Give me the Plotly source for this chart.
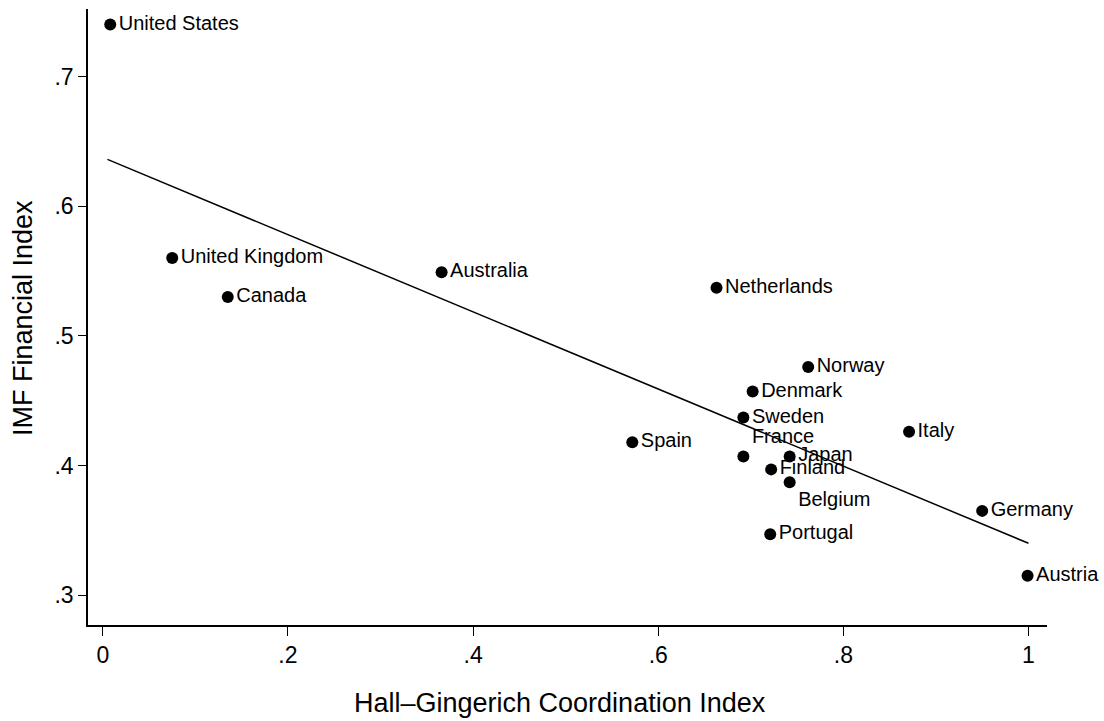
import plotly.graph_objects as go

countries = ["United States", "United Kingdom", "Canada", "Australia", "Netherlands",
             "Norway", "Denmark", "Sweden", "Spain", "France", "Japan", "Finland",
             "Belgium", "Portugal", "Italy", "Germany", "Austria"]
coord_index = [0.008, 0.075, 0.135, 0.366, 0.663,
               0.762, 0.702, 0.692, 0.572, 0.692, 0.742, 0.722,
               0.742, 0.721, 0.871, 0.950, 0.999]
imf_index = [0.740, 0.560, 0.530, 0.549, 0.537,
             0.476, 0.457, 0.437, 0.418, 0.407, 0.407, 0.397,
             0.387, 0.347, 0.426, 0.365, 0.315]
label_pos = ["middle right"] * len(countries)
label_pos[countries.index("France")] = "top right"
label_pos[countries.index("Belgium")] = "bottom right"

fit_x = [0.005, 1.0]
fit_y = [0.636, 0.340]

x_ticks = [0, 0.2, 0.4, 0.6, 0.8, 1.0]
x_ticklabels = ["0", ".2", ".4", ".6", ".8", "1"]
y_ticks = [0.3, 0.4, 0.5, 0.6, 0.7]
y_ticklabels = [".3", ".4", ".5", ".6", ".7"]

x_title = "Hall\u2013Gingerich Coordination Index"
y_title = "IMF Financial Index"

font = "Liberation Sans, Arial, sans-serif"

fig = go.Figure()
fig.add_trace(go.Scatter(x=fit_x, y=fit_y, mode="lines",
                         line=dict(color="black", width=1.5), hoverinfo="skip"))
fig.add_trace(go.Scatter(x=coord_index, y=imf_index, mode="markers+text",
                         text=countries, textposition=label_pos,
                         textfont=dict(family=font, size=20, color="black"),
                         marker=dict(color="black", size=12),
                         cliponaxis=False))

fig.update_layout(
    width=1104, height=721,
    margin=dict(l=88, r=57, t=9, b=96, autoexpand=False),
    plot_bgcolor="white", paper_bgcolor="white",
    showlegend=False,
    font=dict(family=font, color="black"),
    annotations=[
        dict(text=x_title, xref="paper", yref="paper", x=0.492, y=-0.127,
             xanchor="center", yanchor="middle", showarrow=False,
             font=dict(size=27, color="black")),
        dict(text=y_title, xref="paper", yref="paper", x=-0.068, y=0.498,
             xanchor="center", yanchor="middle", showarrow=False, textangle=-90,
             font=dict(size=27, color="black")),
    ],
)
fig.update_xaxes(range=[-0.016, 1.02], tickvals=x_ticks, ticktext=x_ticklabels,
                 showline=True, linecolor="black", linewidth=1.5,
                 ticks="outside", ticklen=9, tickcolor="black",
                 showgrid=False, zeroline=False, automargin=False,
                 tickfont=dict(size=23))
fig.update_yaxes(range=[0.277, 0.752], tickvals=y_ticks, ticktext=y_ticklabels,
                 showline=True, linecolor="black", linewidth=1.5,
                 ticks="outside", ticklen=8, tickcolor="black",
                 showgrid=False, zeroline=False, automargin=False,
                 tickfont=dict(size=23))

fig.write_html("out.html",
               config={"displayModeBar": False},
               post_script="document.body.style.margin='0';document.body.style.overflow='hidden';")
